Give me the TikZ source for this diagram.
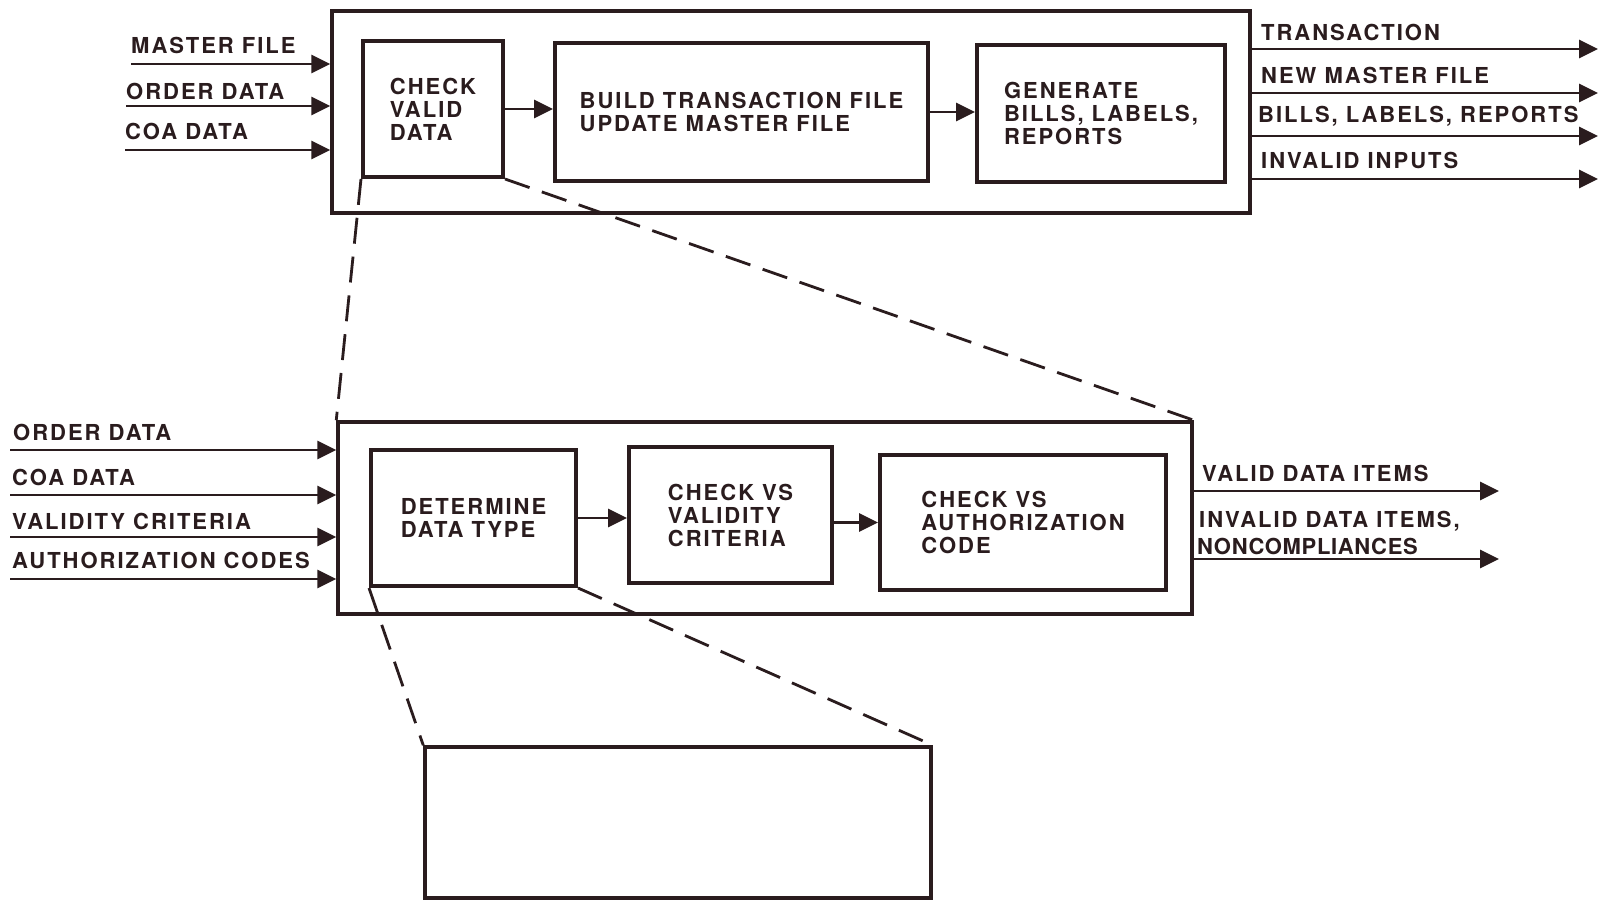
\documentclass[tikz,border=0pt]{standalone}
\usepackage{fontspec}
\newfontfamily\stencil{TeX Gyre Heros}[LetterSpace=9]
\newfontfamily\typed{TeX Gyre Heros}[LetterSpace=3]
\usetikzlibrary{positioning,calc,arrows.meta}
\definecolor{ink}{HTML}{2A1C1E}

\begin{document}
\begin{tikzpicture}[x=1pt,y=-1pt,
  outer/.style={rectangle,draw=ink,line width=3.5pt},
  box/.style={rectangle,draw=ink,line width=4pt,align=left,text=ink,
    font=\stencil\bfseries\fontsize{22}{23}\selectfont},
  lbl/.style={anchor=base west,inner sep=0pt,text=ink,
    font=\stencil\bfseries\fontsize{22}{23}\selectfont},
  flow/.style={draw=ink,line width=2.8pt,-{Triangle[length=19pt,width=18pt]}},
  zoomline/.style={draw=ink,line width=2.8pt,dash pattern=on 26pt off 13pt}]
\useasboundingbox[fill=white] (0,0) rectangle (1604,901);

% level 1
\node[outer,minimum width=918pt,minimum height=202pt] (lvlA) at (791,112) {};
\node[box,minimum width=140pt,minimum height=136pt] (check) at (433,109) {CHECK\\VALID\\DATA};
\node[box,minimum width=373pt,minimum height=138pt] (build) at (741.5,112) {BUILD TRANSACTION FILE\\UPDATE MASTER FILE};
\node[box,minimum width=248pt,minimum height=137pt] (gen) at (1101,113.5) {GENERATE\\BILLS, LABELS,\\REPORTS};

\draw[flow] (check.east) -- (check.east -| build.west);
\draw[flow] (build.east) -- (build.east -| gen.west);

\coordinate (inA1) at (131,64);
\coordinate (inA2) at (126,106);
\coordinate (inA3) at (125,150);
\draw[flow] (inA1) -- (inA1 -| lvlA.west);
\draw[flow] (inA2) -- (inA2 -| lvlA.west);
\draw[flow] (inA3) -- (inA3 -| lvlA.west);
\node[lbl] (lblA1) at ($(inA1)+(0,-10)$) {MASTER FILE};
\node[lbl] (lblA2) at ($(inA2)+(0,-6)$) {ORDER DATA};
\node[lbl] (lblA3) at ($(inA3)+(0,-10)$) {COA DATA};

\coordinate (outA1) at (1598,49);
\coordinate (outA2) at (1598,93);
\coordinate (outA3) at (1598,136);
\coordinate (outA4) at (1598,179);
\draw[flow] (outA1 -| lvlA.east) -- (outA1);
\draw[flow] (outA2 -| lvlA.east) -- (outA2);
\draw[flow] (outA3 -| lvlA.east) -- (outA3);
\draw[flow] (outA4 -| lvlA.east) -- (outA4);
\node[lbl] (lblO1) at (1261,41) {TRANSACTION};
\node[lbl] (lblO2) at (1261,84) {NEW MASTER FILE};
\node[lbl] (lblO3) at (1258,123) {BILLS, LABELS, REPORTS};
\node[lbl] (lblO4) at (1261,169) {INVALID INPUTS};

% level 2
\node[outer,minimum width=854pt,minimum height=192pt] (lvlB) at (765,518) {};
\node[box,minimum width=205pt,minimum height=136pt] (dtype) at (473.5,518) {DETERMINE\\DATA TYPE};
\node[box,minimum width=203pt,minimum height=136pt] (crit) at (730.5,515) {CHECK VS\\VALIDITY\\CRITERIA};
\node[box,minimum width=286pt,minimum height=135pt] (auth) at (1023,522.5) {CHECK VS\\AUTHORIZATION\\CODE};

\draw[flow] (dtype.east) -- (dtype.east -| crit.west);
\draw[flow] (auth.west -| crit.east) -- (auth.west);

\coordinate (inB1) at (10,450);
\coordinate (inB2) at (10,495);
\coordinate (inB3) at (10,537);
\coordinate (inB4) at (10,579);
\draw[flow] (inB1) -- (inB1 -| lvlB.west);
\draw[flow] (inB2) -- (inB2 -| lvlB.west);
\draw[flow] (inB3) -- (inB3 -| lvlB.west);
\draw[flow] (inB4) -- (inB4 -| lvlB.west);
\node[lbl] (lblB1) at (13,440) {ORDER DATA};
\node[lbl] (lblB2) at (12,485) {COA DATA};
\node[lbl] (lblB3) at (12,529) {VALIDITY CRITERIA};
\node[lbl] (lblB4) at (12,568) {AUTHORIZATION CODES};

\coordinate (outB1) at (1499,491);
\coordinate (outB2) at (1499,559);
\draw[flow] (outB1 -| lvlB.east) -- (outB1);
\draw[flow] (outB2 -| lvlB.east) -- (outB2);
\node[lbl] (lblP1) at (1202,481) {VALID DATA ITEMS};
\node[lbl] (lblP2) at (1199,527) {INVALID DATA ITEMS,};
\node[lbl,font=\typed\bfseries\fontsize{22}{23}\selectfont] (lblP3) at (1197,554) {NONCOMPLIANCES};

% level 3
\node[outer,minimum width=506pt,minimum height=151pt] (lvlC) at (678,822.5) {};

% zoom lines
\draw[zoomline] (check.south west) -- (lvlB.north west);
\draw[zoomline] (check.south east) -- (lvlB.north east);
\draw[zoomline] (dtype.south west) -- (lvlC.north west);
\draw[zoomline] (dtype.south east) -- (lvlC.north east);
\end{tikzpicture}
\end{document}
